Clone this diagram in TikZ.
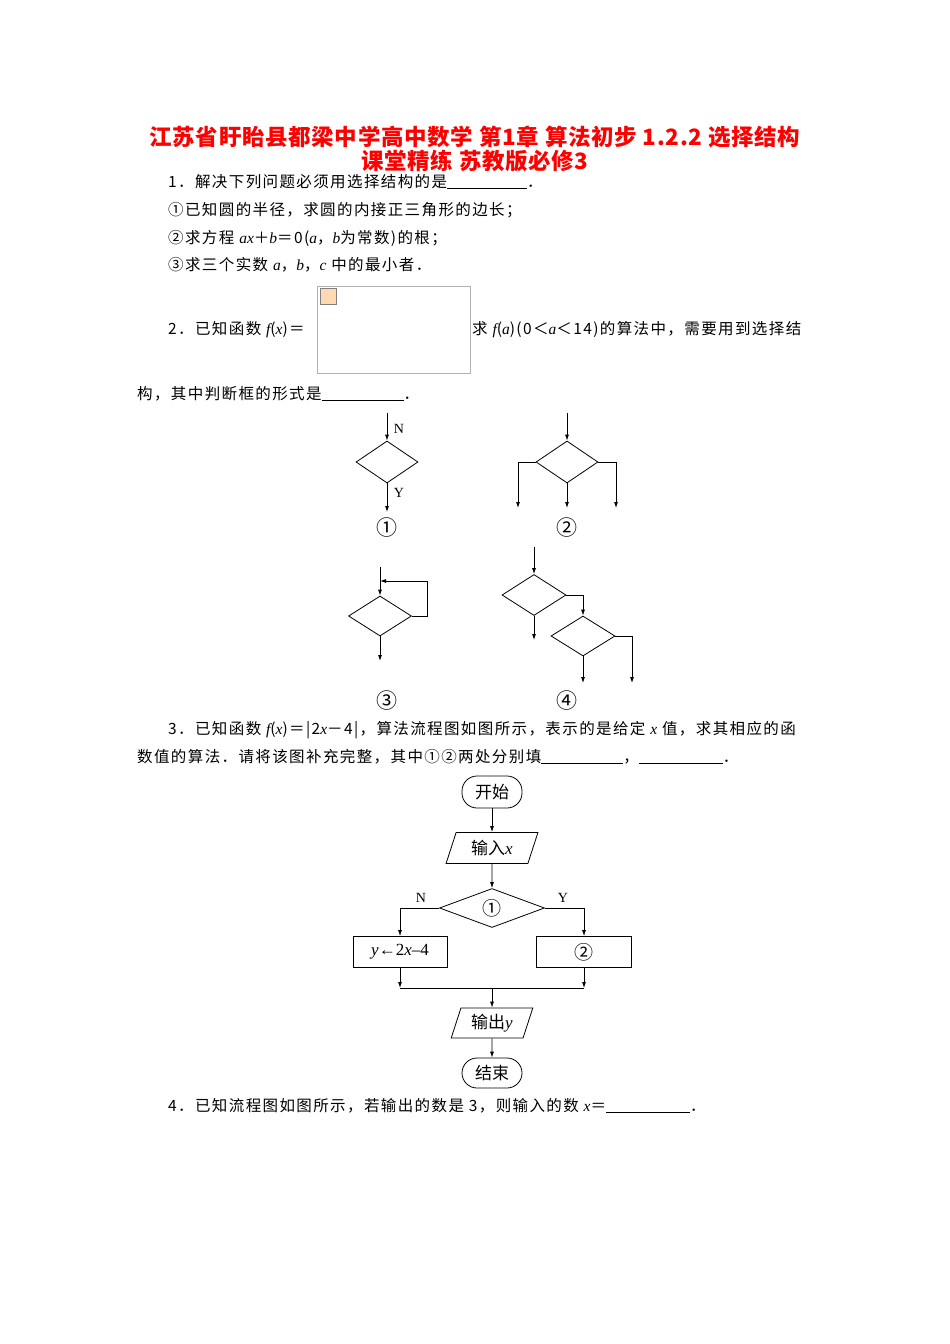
\documentclass[tikz,border=0pt]{standalone}
\usepackage{fontspec}
\setmainfont{Liberation Serif}
\newfontfamily\cjk{Noto Sans CJK SC}
\newfontfamily\cjks[LetterSpace=9]{Noto Sans CJK SC}
\newfontfamily\cjkt[LetterSpace=3]{Noto Sans CJK SC}
\usetikzlibrary{shapes.geometric,arrows.meta}
\newcommand{\blank}[1]{\underline{\hspace{#1pt}}}
\newcommand{\mi}[1]{{\rmfamily\itshape #1}}
\begin{document}
\begin{tikzpicture}[x=1pt,y=-1pt,
  txt/.style={anchor=base west,inner sep=0pt,font=\cjks\fontsize{15.5}{17}\selectfont},
  lbl/.style={inner sep=0pt,font=\fontsize{14}{15}\selectfont},
  dia/.style={draw,thick,diamond,aspect=1.5,inner sep=0pt},
  fl/.style={thick,-{Latex[length=6pt,width=4pt]}},
  ln/.style={thick},
  circ/.style={inner sep=0pt,font=\cjk\fontsize{21}{22}\selectfont}]
\useasboundingbox (0,0) rectangle (950,1344);
% title
\node[inner sep=0pt,text=red,font=\cjkt\bfseries\fontsize{22.5}{24}\selectfont] (t1) at (475,137) {江苏省盱眙县都梁中学高中数学 第1章 算法初步 1.2.2 选择结构};
\node[inner sep=0pt,text=red,font=\cjkt\bfseries\fontsize{22.5}{24}\selectfont] (t2) at (475,161) {课堂精练 苏教版必修3};
\node[txt] (q1) at (168,187) {1．解决下列问题必须用选择结构的是\blank{80}．};
\node[txt] (q1a) at (168,215) {①已知圆的半径，求圆的内接正三角形的边长；};
\node[txt] (q1b) at (168,243) {②求方程 \mi{ax}＋\mi{b}＝0(\mi{a}，\mi{b}为常数)的根；};
\node[txt] (q1c) at (168,270) {③求三个实数 \mi{a}，\mi{b}，\mi{c} 中的最小者．};
\node[txt] (q2) at (168,334) {2．已知函数 \mi{f}(\mi{x})＝};
\draw[gray!60] (317,286) rectangle (470,373);
\node[draw=gray,fill=orange!30,minimum size=16pt,inner sep=0pt,anchor=north west] (img) at (320,288) {};
\node[txt] (q2b) at (472,334) {求 \mi{f}(\mi{a})(0＜\mi{a}＜14)的算法中，需要用到选择结};
\node[txt] (q2c) at (137,399) {构，其中判断框的形式是\blank{82}．};
% fig 1
\node[dia,minimum width=62pt,minimum height=42pt] (d1) at (387,462) {};
\coordinate (s1) at (387,413); \coordinate (e1) at (387,512);
\draw[fl] (s1) -- (d1.north); \draw[fl] (d1.south) -- (e1);
\node[lbl] (n1) at (399,429) {N}; \node[lbl] (y1) at (399,493) {Y};
\node[circ] (c1) at (387,528) {①};
% fig 2
\node[dia,minimum width=62pt,minimum height=42pt] (d2) at (567,462) {};
\coordinate (s2) at (567,413); \coordinate (e2) at (567,508);
\coordinate (l2) at (518,462); \coordinate (le2) at (518,508);
\coordinate (r2) at (616,462); \coordinate (re2) at (616,508);
\draw[fl] (s2) -- (d2.north); \draw[fl] (d2.south) -- (e2);
\draw[fl] (d2.west) -- (l2) -- (le2); \draw[fl] (d2.east) -- (r2) -- (re2);
\node[circ] (c2) at (567,528) {②};
% fig 3
\node[dia,minimum width=63pt,minimum height=40pt] (d3) at (380,616) {};
\coordinate (s3) at (380,567); \coordinate (e3) at (380,661);
\coordinate (a3) at (427,616); \coordinate (b3) at (427,581); \coordinate (m3) at (380,581);
\draw[fl] (s3) -- (d3.north); \draw[fl] (d3.south) -- (e3);
\draw[fl] (d3.east) -- (a3) -- (b3) -- (m3);
\node[circ] (c3) at (387,701) {③};
% fig 4
\node[dia,minimum width=64pt,minimum height=41pt] (d4) at (534,595) {};
\node[dia,minimum width=64pt,minimum height=40pt] (d5) at (583,636) {};
\coordinate (s4) at (534,547); \coordinate (e4) at (534,640);
\coordinate (r4) at (583,595);
\coordinate (r5) at (632,636); \coordinate (re5) at (632,683); \coordinate (e5) at (583,683);
\draw[fl] (s4) -- (d4.north); \draw[fl] (d4.south) -- (e4);
\draw[fl] (d4.east) -- (r4) -- (d5.north);
\draw[fl] (d5.south) -- (e5); \draw[fl] (d5.east) -- (r5) -- (re5);
\node[circ] (c4) at (567,701) {④};
% Q3
\node[txt] (q3) at (168,734) {3．已知函数 \mi{f}(\mi{x})＝|2\mi{x}－4|，算法流程图如图所示，表示的是给定 \mi{x} 值，求其相应的函};
\node[txt] (q3b) at (137,762) {数值的算法．请将该图补充完整，其中①②两处分别填\blank{82}，\blank{84}．};
% flowchart
\node[draw,thick,rounded corners=15pt,minimum width=60pt,minimum height=32pt,inner sep=0pt,font=\cjk\fontsize{17}{18}\selectfont] (st) at (492,792) {开始};
\node[draw,thick,trapezium,trapezium left angle=72,trapezium right angle=108,minimum width=80pt,minimum height=31pt,inner sep=2pt,font=\cjk\fontsize{17}{18}\selectfont] (in) at (492,848) {输入\mi{x}};
\node[dia,aspect=2.7,minimum width=105pt,minimum height=39pt,font=\cjk\fontsize{19}{20}\selectfont] (dd) at (492,908) {①};
\node[draw,thick,minimum width=94pt,minimum height=31pt,inner sep=0pt,font=\fontsize{17}{18}\selectfont] (bl) at (400,952) {\mi{y}←2\mi{x}–4};
\node[draw,thick,minimum width=95pt,minimum height=31pt,inner sep=0pt,font=\cjk\fontsize{19}{20}\selectfont] (br) at (584,952) {②};
\node[draw,thick,trapezium,trapezium left angle=72,trapezium right angle=108,minimum width=74pt,minimum height=30pt,inner sep=2pt,font=\cjk\fontsize{17}{18}\selectfont] (out) at (492,1023) {输出\mi{y}};
\node[draw,thick,rounded corners=15pt,minimum width=60pt,minimum height=30pt,inner sep=0pt,font=\cjk\fontsize{17}{18}\selectfont] (en) at (492,1073) {结束};
\coordinate (dl) at (400,908); \coordinate (dr) at (584,908);
\coordinate (jl) at (400,988); \coordinate (jr) at (584,988); \coordinate (jm) at (492,988);
\draw[fl] (st) -- (in); \draw[fl] (in) -- (dd);
\draw[fl] (dd.west) -- (dl) -- (bl.north);
\draw[fl] (dd.east) -- (dr) -- (br.north);
\draw[fl] (bl.south) -- (jl); \draw[fl] (br.south) -- (jr);
\draw[ln] (jl) -- (jr);
\draw[fl] (jm) -- (out); \draw[fl] (out) -- (en);
\node[lbl] (nn) at (421,898) {N}; \node[lbl] (yy) at (563,898) {Y};
% Q4
\node[txt] (q4) at (168,1111) {4．已知流程图如图所示，若输出的数是 3，则输入的数 \mi{x}＝\blank{84}．};
\end{tikzpicture}
\end{document}
